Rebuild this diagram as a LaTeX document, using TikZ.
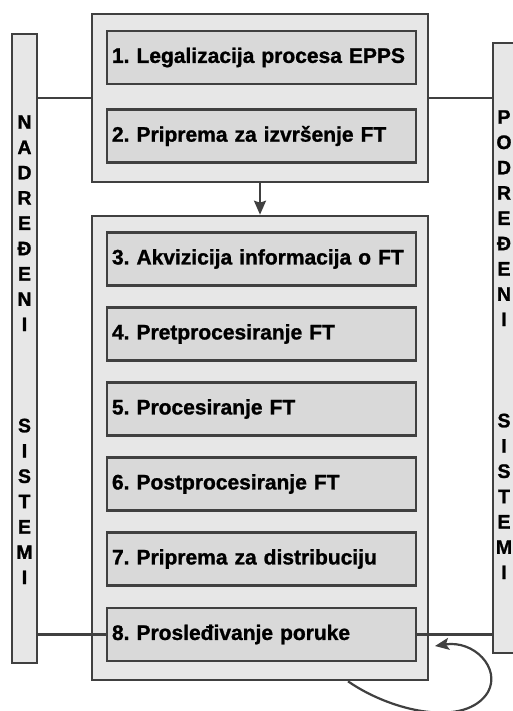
\documentclass[tikz,border=0pt]{standalone}
\usepackage{fontspec}
\setmainfont{Liberation Sans}[BoldFeatures={FakeBold=1.2}]
\frenchspacing
\definecolor{GrpLine}{RGB}{64,64,64}
\definecolor{GrpFill}{RGB}{231,231,231}
\definecolor{StepFill}{RGB}{217,217,217}
\usetikzlibrary{arrows.meta,calc}

\begin{document}
\begin{tikzpicture}[x=1pt,y=-1pt,
    every node/.style={font=\fontsize{21}{25.3}\selectfont\bfseries},
    grp/.style={draw=GrpLine,fill=GrpFill,line width=2.6pt,minimum width=336pt},
    stepbox/.style={draw=GrpLine,fill=StepFill,line width=2.6pt,
      text width=299pt,inner xsep=5pt,minimum height=53pt,align=left},
    side/.style={draw=GrpLine,fill=GrpFill,line width=2.6pt,minimum width=25pt},
    sidetext/.style={align=center,inner sep=0pt,font=\fontsize{19.5}{25.3}\selectfont\bfseries},
    link/.style={draw=GrpLine,line width=2.2pt}]
  \useasboundingbox (0,0) rectangle (513,711);
  \clip (0,0) rectangle (513,711);
  %% Groups of steps
  \node[grp,minimum height=168pt] (topgrp) at (260,98) {};
  \node[grp,minimum height=464pt] (lowgrp) at (260,448) {};
  %% Steps
  \foreach \n/\y/\t in {
      1/57.5/{1. Legalizacija procesa EPPS},
      2/136/{2. Priprema za izvršenje FT},
      3/259/{3. Akvizicija informacija o FT},
      4/334/{4. Pretprocesiranje FT},
      5/409/{5. Procesiranje FT},
      6/484/{6. Postprocesiranje FT},
      7/559/{7. Priprema za distribuciju},
      8/634.5/{8. Prosleđivanje poruke}}{
    \node[stepbox] (s\n) at (261.5,\y) {\t};
  }
  %% Side systems
  \node[side,minimum height=629pt] (nadr) at (24.5,348.5) {};
  \node[sidetext] (nadrtxt) at (24.5,349.7)
    {N\\A\\D\\R\\E\\Đ\\E\\N\\I\\[75.9pt]S\\I\\S\\T\\E\\M\\I};
  \node[side,minimum width=32pt,minimum height=610pt] (podr) at (509,348) {};
  \node[sidetext] (podrtxt) at (504,344.7)
    {P\\O\\D\\R\\E\\Đ\\E\\N\\I\\[75.9pt]S\\I\\S\\T\\E\\M\\I};
  %% Links
  \draw[link] (nadr.east |- topgrp.west) -- (topgrp.west);
  \draw[link] (topgrp.east) -- (topgrp.east -| podr.west);
  \draw[link] (nadr.east |- s8.west) -- (s8.west);
  \draw[link] (s8.east) -- (s8.east -| podr.west);
  \draw[link,-{Stealth[length=14pt,width=12pt,inset=2pt]}] (topgrp.south) -- (lowgrp.north);
  %% Feedback loop
  \coordinate (loopin) at (435,646);
  \draw[link,-{Stealth[length=14pt,width=12pt,inset=3pt]}]
    ($(lowgrp.south west)!0.76!(lowgrp.south east)$)
    .. controls (392,712) and (466,728) .. (488,692)
    .. controls (501,668) and (474,640) .. (loopin);
\end{tikzpicture}
\end{document}
